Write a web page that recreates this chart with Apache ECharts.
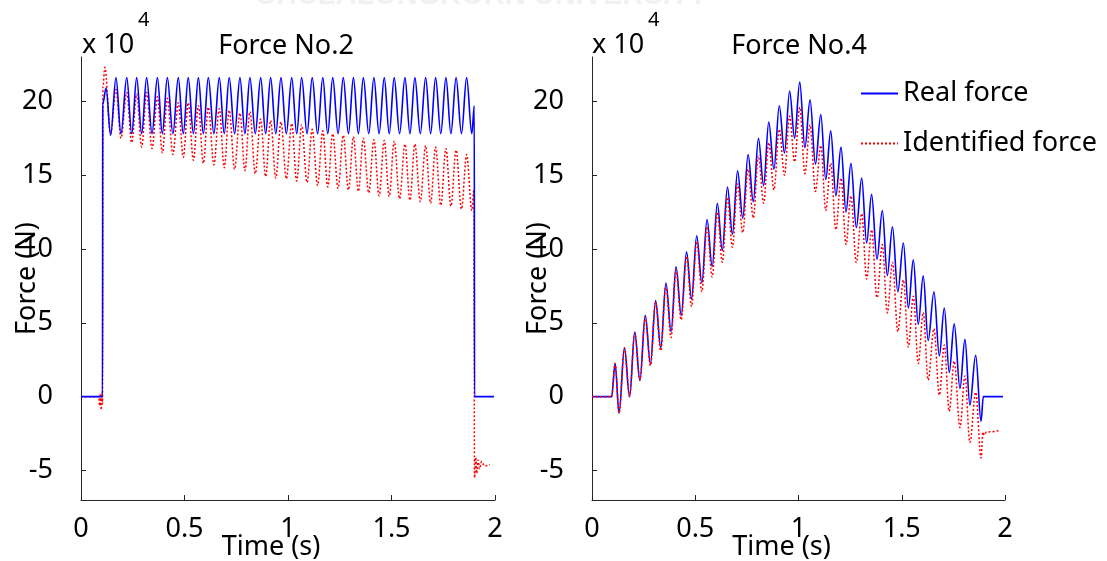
<!DOCTYPE html>
<html>
<head>
<meta charset="utf-8">
<title>Force No.2 / Force No.4</title>
<script src="https://cdn.jsdelivr.net/npm/echarts@6/dist/echarts.min.js"></script>
<style>
  html, body { margin: 0; padding: 0; background: #fff; }
  #chart { width: 1107px; height: 561px; }
</style>
</head>
<body>
<div id="chart"></div>
<script>
// values are in units of 1e4 N, time in s
const yTicks = [-5, 0, 5, 10, 15, 20];

// ---- Force No.2 ----
// trough / peak times of the oscillation (shared by both curves)
const cycleT2 = [
  0.143, 0.169, 0.193, 0.221, 0.245, 0.269, 0.293, 0.317, 0.343, 0.369,
  0.393, 0.417, 0.444, 0.470, 0.494, 0.518, 0.543, 0.567, 0.591, 0.615,
  0.642, 0.668, 0.692, 0.716, 0.742, 0.768, 0.792, 0.816, 0.842, 0.868,
  0.892, 0.916, 0.941, 0.966, 0.992, 1.018, 1.042, 1.066, 1.092, 1.117,
  1.143, 1.168, 1.192, 1.216, 1.242, 1.267, 1.292, 1.316, 1.340, 1.364,
  1.390, 1.415, 1.440, 1.465, 1.489, 1.513, 1.539, 1.565, 1.589, 1.613,
  1.639, 1.665, 1.689, 1.713, 1.738, 1.763, 1.787, 1.812, 1.838, 1.863,
  1.888
];
const realCycle2 = [
  17.7, 21.6, 17.8, 21.6, 17.8, 21.6, 17.8, 21.6, 17.8, 21.6,
  17.8, 21.6, 17.8, 21.6, 17.8, 21.6, 17.8, 21.6, 17.8, 21.6,
  17.8, 21.6, 17.8, 21.6, 17.8, 21.6, 17.8, 21.6, 17.8, 21.6,
  17.8, 21.6, 17.8, 21.6, 17.8, 21.6, 17.8, 21.6, 17.8, 21.6,
  17.8, 21.6, 17.8, 21.6, 17.8, 21.6, 17.8, 21.6, 17.8, 21.6,
  17.8, 21.6, 17.8, 21.6, 17.8, 21.6, 17.8, 21.6, 17.8, 21.6,
  17.8, 21.6, 17.8, 21.6, 17.8, 21.6, 17.8, 21.6, 17.8, 21.6,
  17.8
];
const identCycle2 = [
  17.8, 20.8, 17.5, 20.6, 17.2, 20.5, 16.9, 20.6, 16.8, 20.3,
  16.5, 20.2, 16.4, 19.9, 16.2, 19.9, 16.0, 19.7, 15.8, 19.6,
  15.7, 19.5, 15.5, 19.4, 15.4, 19.2, 15.3, 19.3, 15.1, 18.8,
  14.9, 18.7, 14.8, 18.6, 14.75, 18.5, 14.6, 18.4, 14.5, 18.1,
  14.3, 18.0, 14.2, 17.8, 14.1, 17.7, 14.0, 17.6, 13.9, 17.5,
  13.8, 17.4, 13.6, 17.35, 13.55, 17.3, 13.4, 17.1, 13.3, 17.1,
  13.2, 17.0, 13.1, 16.9, 12.95, 16.8, 12.9, 16.7, 12.7, 16.4,
  12.6
];
const realHead2 = [[0, 0], [0.104, 0], [0.105, 19.8], [0.121, 20.9]];
const realTail2 = [[1.900, 19.7], [1.901, 0], [1.995, 0]];
const identHead2 = [[0, 0], [0.086, 0], [0.090, -0.6], [0.094, 0.2], [0.098, -0.9],
  [0.101, 0.3], [0.104, -0.5], [0.106, 21.0], [0.115, 22.3]];
const identTail2 = [[1.898, 14.0], [1.901, -5.5], [1.907, -4.1], [1.912, -5.2],
  [1.918, -4.3], [1.925, -4.9], [1.935, -4.4], [1.950, -4.7], [1.975, -4.6]];

// ---- Force No.4 ----
const cycleT4 = [
  0.112, 0.131, 0.157, 0.182, 0.207, 0.232, 0.258, 0.283, 0.308, 0.333,
  0.358, 0.383, 0.407, 0.432, 0.458, 0.482, 0.507, 0.532, 0.557, 0.582,
  0.607, 0.631, 0.656, 0.680, 0.705, 0.730, 0.756, 0.781, 0.806, 0.831,
  0.856, 0.881, 0.907, 0.932, 0.957, 0.981, 1.006, 1.031, 1.056, 1.082,
  1.108, 1.132, 1.156, 1.181, 1.206, 1.230, 1.254, 1.280, 1.306, 1.330,
  1.354, 1.380, 1.406, 1.430, 1.455, 1.481, 1.508, 1.532, 1.556, 1.580,
  1.604, 1.628, 1.656, 1.682, 1.706, 1.730, 1.754, 1.782, 1.806, 1.830,
  1.858, 1.884
];
const realCycle4 = [
  2.24, -1.12, 3.3, 0.0, 4.37, 1.12, 5.5, 2.2, 6.5, 3.3,
  7.7, 4.4, 8.8, 5.5, 9.8, 6.6, 10.9, 7.7, 12.0, 8.8,
  13.1, 9.9, 14.2, 11.0, 15.3, 12.1, 16.4, 13.2, 17.5, 14.3,
  18.6, 15.4, 19.7, 16.5, 20.7, 17.5, 21.3, 16.85, 20.1, 15.75,
  19.1, 14.7, 18.0, 13.6, 16.9, 12.5, 15.8, 11.45, 14.8, 10.4,
  13.7, 9.3, 12.6, 8.2, 11.5, 7.1, 10.4, 6.0, 9.26, 4.9,
  8.18, 3.8, 7.1, 2.76, 6.0, 1.64, 4.93, 0.56, 3.88, -0.56,
  2.8, -1.68
];
const identCycle4 = [
  2.24, -1.12, 3.3, 0.0, 4.3, 1.1, 5.4, 2.1, 6.4, 3.1,
  7.5, 4.0, 8.6, 5.2, 9.5, 6.1, 10.5, 7.1, 11.5, 8.1,
  12.5, 9.1, 13.5, 10.1, 14.4, 11.1, 15.4, 12.1, 16.3, 13.1,
  17.2, 14.0, 18.1, 15.0, 19.0, 15.9, 19.6, 15.1, 18.4, 13.9,
  17.0, 12.6, 15.8, 11.3, 14.8, 10.3, 13.6, 9.08, 12.4, 7.96,
  11.3, 6.7, 10.3, 5.67, 9.1, 4.4, 7.9, 3.36, 6.8, 2.24,
  5.7, 1.12, 4.6, 0.1, 3.5, -1.0, 2.4, -2.1, 1.4, -3.1,
  0.3, -4.15
];
const realHead4 = [[0, 0], [0.095, 0]];
const realTail4 = [[1.895, 0], [1.990, 0]];
const identHead4 = [[0, 0], [0.095, 0]];
const identTail4 = [[1.893, -2.4], [1.900, -2.6], [1.910, -2.4], [1.976, -2.3]];

const zip = (ts, vs) => ts.map((t, i) => [t, vs[i]]);

const FONT = '"Noto Sans", "DejaVu Sans", sans-serif';
const FS = 27;
const axisColor = '#262626';

const chart = echarts.init(document.getElementById('chart'), null, { renderer: 'canvas' });

const xAxisBase = (gridIndex) => ({
  gridIndex,
  type: 'value',
  min: 0,
  max: 2,
  interval: 0.5,
  name: 'Time (s)',
  nameLocation: 'middle',
  nameGap: 34,
  nameMoveOverlap: false,
  nameTextStyle: { fontSize: FS, color: '#000', fontFamily: FONT, padding: [0, 34, 0, 0] },
  axisLine: { onZero: false, lineStyle: { color: axisColor, width: 1 } },
  axisTick: { inside: true, length: 5, lineStyle: { color: axisColor } },
  axisLabel: { fontSize: FS, color: '#000', fontFamily: FONT, margin: 16 },
  splitLine: { show: false }
});

const yAxisBase = (gridIndex) => ({
  gridIndex,
  type: 'value',
  min: -7,
  max: 23,
  name: 'Force (N)',
  nameLocation: 'middle',
  nameGap: 40,
  nameMoveOverlap: false,
  nameTextStyle: { fontSize: FS, color: '#000', fontFamily: FONT },
  axisLine: { show: true, onZero: false, lineStyle: { color: axisColor, width: 1 } },
  axisTick: { show: true, inside: true, length: 5, customValues: yTicks, lineStyle: { color: axisColor } },
  axisLabel: { fontSize: FS, color: '#000', fontFamily: FONT, margin: 28, customValues: yTicks },
  splitLine: { show: false }
});

const realStyle = { color: '#0000ff', width: 1.6, type: 'solid' };
const identStyle = { color: '#ff0000', width: 1.5, type: [2, 2] };

const lineSeries = (name, idx, data, style) => ({
  name,
  type: 'line',
  xAxisIndex: idx,
  yAxisIndex: idx,
  data,
  symbol: 'none',
  smooth: 0.35,
  smoothMonotone: 'x',
  lineStyle: style,
  itemStyle: { color: style.color },
  animation: false
});

const titleStyle = { fontSize: FS, fontWeight: 'normal', color: '#000', fontFamily: FONT };

const option = {
  backgroundColor: '#ffffff',
  animation: false,
  title: [
    { text: 'Force No.2', left: 281, top: 28, textAlign: 'center', textStyle: titleStyle },
    { text: 'Force No.4', left: 794, top: 28, textAlign: 'center', textStyle: titleStyle }
  ],
  legend: {
    data: ['Real force', 'Identified force'],
    orient: 'vertical',
    left: 860,
    top: 80,
    padding: 0,
    itemWidth: 37,
    itemHeight: 14,
    itemGap: 23,
    itemStyle: { opacity: 0 },
    textStyle: { fontSize: FS, color: '#000', fontFamily: FONT }
  },
  grid: [
    { left: 81, top: 57, width: 414, height: 443, outerBoundsMode: 'none' },
    { left: 592, top: 57, width: 413, height: 443, outerBoundsMode: 'none' }
  ],
  xAxis: [xAxisBase(0), xAxisBase(1)],
  yAxis: [yAxisBase(0), yAxisBase(1)],
  graphic: [
    { type: 'text', left: 255, top: -19, silent: true,
      style: { text: 'CHULALONGKORN UNIVERSITY', fill: '#f1f1f1', font: 'bold 29px "Liberation Sans", sans-serif' } },
    { type: 'text', left: 82, top: 32, style: { text: 'x 10', fill: '#000', font: FS + 'px ' + FONT } },
    { type: 'text', left: 138, top: 10, style: { text: '4', fill: '#000', font: '20px ' + FONT } },
    { type: 'text', left: 592, top: 32, style: { text: 'x 10', fill: '#000', font: FS + 'px ' + FONT } },
    { type: 'text', left: 648, top: 10, style: { text: '4', fill: '#000', font: '20px ' + FONT } }
  ],
  series: [
    lineSeries('Identified force', 0, identHead2.concat(zip(cycleT2, identCycle2), identTail2), identStyle),
    lineSeries('Real force', 0, realHead2.concat(zip(cycleT2, realCycle2), realTail2), realStyle),
    lineSeries('Real force', 1, realHead4.concat(zip(cycleT4, realCycle4), realTail4), realStyle),
    lineSeries('Identified force', 1, identHead4.concat(zip(cycleT4, identCycle4), identTail4), identStyle)
  ]
};

chart.setOption(option);
</script>
</body>
</html>
